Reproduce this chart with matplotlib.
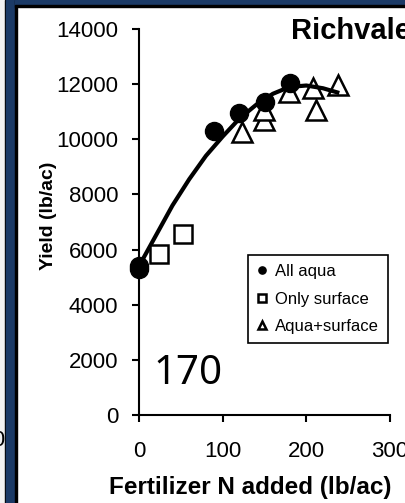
import matplotlib
matplotlib.use("Agg")
import matplotlib.pyplot as plt
from matplotlib.patches import Rectangle

plt.rcParams["font.family"] = ["Liberation Sans", "DejaVu Sans"]

# data
aqua_n = [0, 0, 90, 120, 150, 180]
aqua_y = [5300, 5400, 10300, 10950, 11350, 12050]
surf_n = [24, 52]
surf_y = [5850, 6550]
both_n = [123, 149, 149, 179, 208, 211, 238]
both_y = [10250, 10700, 11050, 11700, 11850, 11050, 11980]
fit_n = [0, 20, 40, 60, 80, 100, 120, 140, 160, 180, 200, 220, 237]
fit_y = [5400, 6500, 7600, 8550, 9400, 10100, 10750, 11250, 11650, 11900, 11950, 11850, 11700]

W, H = 405, 503
fig = plt.figure(figsize=(W / 100, H / 100), dpi=100)
fig.patch.set_facecolor("white")

# slide decorations
navy = "#1b3a66"
fig.patches.append(Rectangle((0, 0), 6 / W, 1, transform=fig.transFigure, color="#f2f2f2", zorder=0))
fig.patches.append(Rectangle((5 / W, 0), 1.2 / W, 1, transform=fig.transFigure, color="black", zorder=1))
fig.patches.append(Rectangle((6 / W, 0), 9 / W, 1, transform=fig.transFigure, color=navy, zorder=1))
fig.patches.append(Rectangle((15 / W, 0), 1.5 / W, 1, transform=fig.transFigure, color="black", zorder=1))
fig.patches.append(Rectangle((15 / W, 1 - 5 / H), 1, 5 / H, transform=fig.transFigure, color=navy, zorder=1))
fig.patches.append(Rectangle((15 / W, 1 - 6.5 / H), 1, 1.5 / H, transform=fig.transFigure, color="black", zorder=1))
fig.text(5 / W, 1 - 441 / H, "300", ha="right", va="center", fontsize=16)

ax = fig.add_axes([139 / W, 88 / H, 251 / W, 386 / H])
ax.set_xlim(0, 300)
ax.set_ylim(0, 14000)
for s in ["top", "right"]:
    ax.spines[s].set_visible(False)
for s in ["left", "bottom"]:
    ax.spines[s].set_linewidth(1.5)
ax.set_xticks([0, 100, 200, 300])
ax.set_yticks(range(0, 14001, 2000))
ax.tick_params(direction="out", length=5, width=1.5, labelsize=16)
ax.tick_params(axis="x", pad=14)
ax.tick_params(axis="y", pad=10)

ax.plot(fit_n, fit_y, color="black", lw=3, zorder=3, clip_on=False)
ax.plot(aqua_n, aqua_y, "o", color="black", ms=13, zorder=4, clip_on=False, label="All aqua")
ax.plot(surf_n, surf_y, "s", mfc="white", mec="black", mew=1.8, ms=13, zorder=4, label="Only surface")
ax.plot(both_n, both_y, "^", mfc="white", mec="black", mew=1.8, ms=15, zorder=2, label="Aqua+surface")

leg = ax.legend(loc="upper left", bbox_to_anchor=(0.434, 0.4145), fontsize=12, markerscale=0.4,
                handlelength=0.6, handletextpad=0.5, borderpad=0.55, labelspacing=0.75,
                borderaxespad=0, fancybox=False, framealpha=1, edgecolor="black")
leg.get_frame().set_linewidth(1.2)

fig.text(291 / W, 1 - 31 / H, "Richvale", fontsize=21, fontweight="bold", ha="left", va="center")
ax.text(17, 1500, "170", fontsize=29, ha="left", va="center", family=["Noto Sans", "DejaVu Sans"])

ax.set_xlabel("Fertilizer N added (lb/ac)", fontsize=17.5, fontweight="bold")
ax.xaxis.set_label_coords(0.442, -0.158)
ax.set_ylabel("Yield (lb/ac)", fontsize=14, fontweight="bold")
ax.yaxis.set_label_coords(-0.325, 0.515)

fig.savefig("out.png", dpi=100)
